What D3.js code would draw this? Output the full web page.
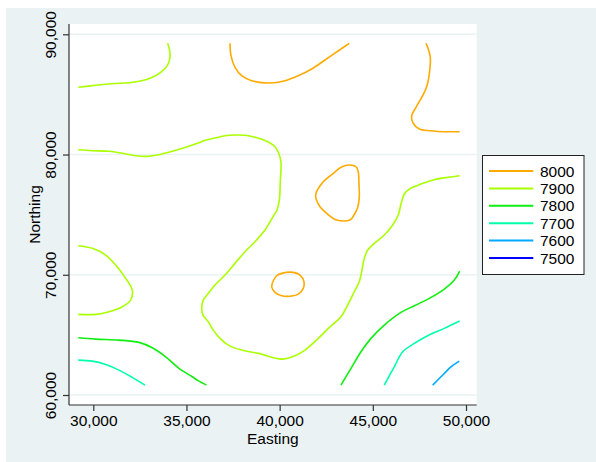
<!DOCTYPE html>
<html>
<head>
<meta charset="utf-8">
<script src="https://cdn.jsdelivr.net/npm/d3@7"></script>
<style>
  html, body { margin: 0; padding: 0; background: #ffffff; }
  svg { display: block; }
  text { font-family: "Liberation Sans", Arial, Helvetica, sans-serif; fill: #000; }
</style>
</head>
<body>
<svg id="chart" width="596" height="462"></svg>
<script>
// ---------------- DATA ----------------
const levels = [8000, 7900, 7800, 7700, 7600, 7500];
const xTicks = [30000, 35000, 40000, 45000, 50000];
const yTicks = [60000, 70000, 80000, 90000];
const xTitle = "Easting";
const yTitle = "Northing";

// contour lines, points are [Easting, Northing]
const c8000_top = [[37335,89252],[37389,88221],[37604,87256],[37963,86557],[38500,86141],[39482,85949],[40287,86141],[41000,86557],[41720,87114],[42433,87863],[43291,88778],[43737,89252]];
const c8000_topRight = [[47853,89252],[47976,88778],[48084,88088],[48052,86973],[47906,85725],[47676,84893],[47316,83928],[47085,83229],[47139,82680],[47493,82122],[48121,81981],[48834,81898],[49661,81898]];
const c8000_loopEast = [[43291,78936],[43737,79127],[44113,78961],[44220,78545],[44258,77463],[44273,76440],[44177,75549],[43989,74967],[43775,74551],[43061,74551],[42524,75108],[42165,75658],[41950,76356],[41950,76772],[42342,77738],[42878,78436]];
const c8000_loopCentre = [[40110,70116],[40732,70200],[41092,69975],[41306,69418],[41270,68868],[41000,68394],[40732,68253],[40110,68253],[39750,68536],[39573,69002],[39659,69501],[39841,69917]];
const c7900_topLeft = [[29195,85592],[30129,85758],[31020,85891],[31916,85974],[32452,86091],[33080,86365],[33617,86840],[33971,87389],[34116,88088],[34100,88637],[33992,89252]];
const c7900_main = [[29195,80400],[29946,80317],[30842,80267],[31556,80100],[32275,79901],[32898,79851],[33525,79984],[34239,80267],[34958,80600],[35581,80932],[36047,81207],[36530,81373],[37067,81565],[37604,81623],[38140,81598],[38677,81432],[39305,81099],[39750,80650],[39965,80042],[40072,79352],[40034,77821],[39981,76157],[39841,75325],[39696,74967],[39482,74410],[39213,73719],[38677,72746],[38140,71914],[37604,70948],[37067,69975],[36530,69143],[36171,68452],[35903,67895],[35817,67204],[35886,66647],[36171,66090],[36439,65399],[36799,64708],[37244,64151],[37963,63735],[38854,63460],[40110,62986],[40823,63261],[41360,63735],[42074,64708],[42610,65540],[43291,66506],[43651,67479],[44005,68586],[44273,69418],[44402,70250],[44542,71364],[44724,72055],[45078,72612],[45615,73303],[46066,74135],[46366,74967],[46511,75882],[46688,76714],[46957,77130],[47584,77546],[48298,77904],[49017,78104],[49661,78237]];
const c7900_left = [[29195,72413],[29946,72196],[30665,71639],[31202,70807],[31739,69700],[32093,68727],[32007,67895],[31556,67338],[30842,66922],[30129,66705],[29195,66705]];
const c7800_left = [[29195,64758],[30129,64650],[31379,64567],[32452,64376],[33166,63926],[33885,63178],[34599,62212],[35312,61514],[35618,61197],[36074,60823]];
const c7800_right = [[43291,60823],[43828,62212],[44365,63594],[44901,64708],[45615,65815],[46511,66872],[47225,67421],[48030,68036],[48834,68810],[49371,69559],[49661,70308]];
const c7700_left = [[29195,62903],[29946,62820],[30665,62545],[31379,62071],[32093,61464],[32774,60823]];
const c7700_right = [[45615,60823],[46152,62346],[46602,63594],[47225,64292],[47944,64925],[48834,65540],[49661,66148]];
const c7600_right = [[48212,60823],[48658,61514],[49194,62346],[49640,62820]];

const contours = [
  {level: 8000, pts: c8000_top, closed: false},
  {level: 8000, pts: c8000_topRight, closed: false},
  {level: 8000, pts: c8000_loopEast, closed: true},
  {level: 8000, pts: c8000_loopCentre, closed: true},
  {level: 7900, pts: c7900_topLeft, closed: false},
  {level: 7900, pts: c7900_main, closed: false},
  {level: 7900, pts: c7900_left, closed: false},
  {level: 7800, pts: c7800_left, closed: false},
  {level: 7800, pts: c7800_right, closed: false},
  {level: 7700, pts: c7700_left, closed: false},
  {level: 7700, pts: c7700_right, closed: false},
  {level: 7600, pts: c7600_right, closed: false}
];

// ---------------- STYLE ----------------
const levelColors = ["#FFAA00", "#AAFF00", "#11EE11", "#00FFAA", "#00AAFF", "#0000FF"];
const colorOf = d3.scaleOrdinal().domain(levels).range(levelColors);
const bg = "#EAF2F3";

const svg = d3.select("#chart");
const W = 596, H = 462;

svg.append("rect").attr("x", 6).attr("y", 8).attr("width", W - 6).attr("height", H - 8).attr("fill", bg);

const plot = {left: 69, right: 476.7, top: 24, bottom: 405};

const x = d3.scaleLinear().domain([28696, 50574]).range([plot.left, plot.right]);
const y = d3.scaleLinear().domain([59168, 90857]).range([plot.bottom, plot.top]);

svg.append("rect")
  .attr("x", plot.left).attr("y", plot.top)
  .attr("width", plot.right - plot.left).attr("height", plot.bottom - plot.top)
  .attr("fill", "#ffffff");

// gridlines
svg.append("g").selectAll("line").data(yTicks).join("line")
  .attr("x1", plot.left).attr("x2", plot.right)
  .attr("y1", d => y(d)).attr("y2", d => y(d))
  .attr("stroke", bg).attr("stroke-width", 1.5);

// contour lines
const lineOpen = d3.line().x(d => x(d[0])).y(d => y(d[1])).curve(d3.curveCatmullRom.alpha(0.5));
const lineClosed = d3.line().x(d => x(d[0])).y(d => y(d[1])).curve(d3.curveCatmullRomClosed.alpha(0.5));

svg.append("g").selectAll("path").data(contours).join("path")
  .attr("d", d => (d.closed ? lineClosed : lineOpen)(d.pts))
  .attr("fill", "none")
  .attr("stroke", d => colorOf(d.level))
  .attr("stroke-width", 1.6)
  .attr("stroke-linejoin", "round");

// axes
const xAxis = d3.axisBottom(x).tickValues(xTicks).tickSize(6).tickPadding(4).tickFormat(d3.format(",.0f"));
const gx = svg.append("g").attr("transform", `translate(0,${plot.bottom})`).call(xAxis);
gx.select(".domain").attr("stroke", "#333").attr("stroke-width", 1.2).attr("d", `M${plot.left},0H${plot.right}`);
gx.selectAll(".tick line").attr("stroke", "#333").attr("stroke-width", 1.2);
gx.selectAll(".tick text").attr("font-size", "15.5px").attr("font-family", "Liberation Sans, Arial, sans-serif").attr("fill", "#000");

const yAxis = d3.axisLeft(y).tickValues(yTicks).tickSize(6).tickPadding(3).tickFormat(d3.format(",.0f"));
const gy = svg.append("g").attr("transform", `translate(${plot.left},0)`).call(yAxis);
gy.select(".domain").attr("stroke", "#333").attr("stroke-width", 1.2).attr("d", `M0,${plot.bottom}V${plot.top}`);
gy.selectAll(".tick line").attr("stroke", "#333").attr("stroke-width", 1.2);
gy.selectAll(".tick text")
  .attr("font-size", "15.5px").attr("font-family", "Liberation Sans, Arial, sans-serif").attr("fill", "#000")
  .attr("x", null).attr("dy", null)
  .attr("text-anchor", "middle")
  .attr("transform", "translate(-13.5,0) rotate(-90)");

// axis titles
svg.append("text").attr("x", (plot.left + plot.right) / 2).attr("y", 443.5)
  .attr("text-anchor", "middle").attr("font-size", "15.5px").text(xTitle);
svg.append("text")
  .attr("transform", `translate(39.5,${(plot.top + plot.bottom) / 2}) rotate(-90)`)
  .attr("text-anchor", "middle").attr("font-size", "15.5px").text(yTitle);

// legend
const lg = svg.append("g");
lg.append("rect").attr("x", 482.5).attr("y", 155.5).attr("width", 101.5).attr("height", 119)
  .attr("fill", "#fff").attr("stroke", "#222").attr("stroke-width", 1);
const rowY = d3.scalePoint().domain(levels).range([171, 258]);
const rows = lg.selectAll("g.row").data(levels).join("g").attr("class", "row")
  .attr("transform", d => `translate(0,${rowY(d)})`);
rows.append("line").attr("x1", 489).attr("x2", 533.3).attr("y1", 0).attr("y2", 0)
  .attr("stroke", d => colorOf(d)).attr("stroke-width", 2);
rows.append("text").attr("x", 540).attr("y", 5.6).attr("font-size", "15.5px").text(d => d);
</script>
</body>
</html>
